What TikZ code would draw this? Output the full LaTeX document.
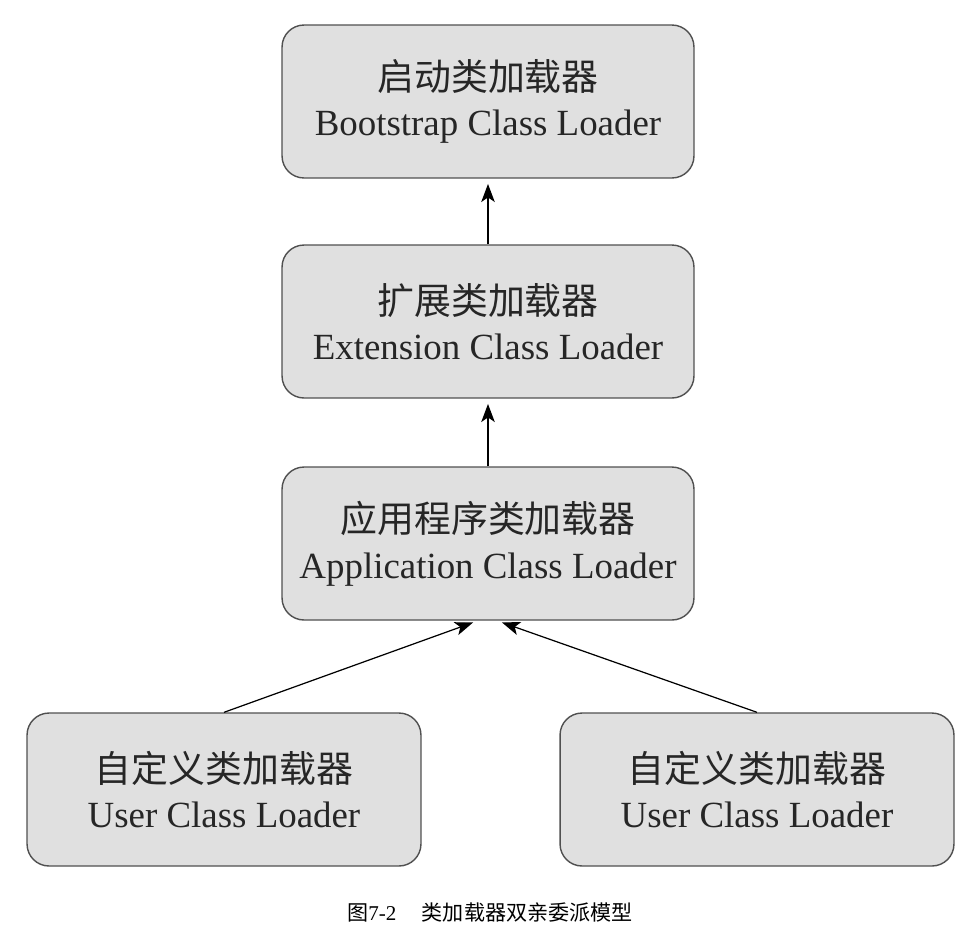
\documentclass[tikz,border=0pt]{standalone}
\usepackage{fontspec}
\setmainfont{Liberation Serif}
\newfontfamily\cjk{Noto Sans CJK SC}
\usetikzlibrary{arrows.meta}
\definecolor{boxfill}{HTML}{E0E0E0}
\definecolor{boxline}{HTML}{505050}
\tikzset{
  loader/.style={draw=boxline, fill=boxfill, line width=0.8pt, rounded corners=0.44cm,
    minimum width=8.24cm, minimum height=3.06cm, align=center,
    font=\fontsize{21}{26}\selectfont, text=black!85},
  userloader/.style={loader, minimum width=7.88cm},
  up/.style={-{Stealth[length=0.36cm, width=0.27cm, inset=0.09cm]}, line width=0.7pt, shorten >=3pt}
}
\begin{document}
\begin{tikzpicture}[x=0.02cm, y=-0.02cm]

\useasboundingbox (0,0) rectangle (979,931);

% the loaders
\node[loader] (boot) at (488,101.5) {{\cjk 启动类加载器}\\Bootstrap Class Loader};
\node[loader] (ext) at (488,321.5) {{\cjk 扩展类加载器}\\Extension Class Loader};
\node[loader] (app) at (488,543.5) {{\cjk 应用程序类加载器}\\Application Class Loader};

\node[userloader] (userl) at (224,789.5) {{\cjk 自定义类加载器}\\User Class Loader};
\node[userloader] (userr) at (757,789.5) {{\cjk 自定义类加载器}\\User Class Loader};

% parent delegation
\draw [up] (ext) -- (boot);
\draw [up] (app) -- (ext);
\draw [up] (userl.north) -- ([xshift=-0.2cm]app.south);
\draw [up] (userr.north) -- ([xshift=0.18cm]app.south);

% caption
\node (cap) at (490,913) {\fontsize{12}{14}\selectfont{\cjk 图}7-2\hspace{1.2em}{\cjk 类加载器双亲委派模型}};

\end{tikzpicture}
\end{document}
